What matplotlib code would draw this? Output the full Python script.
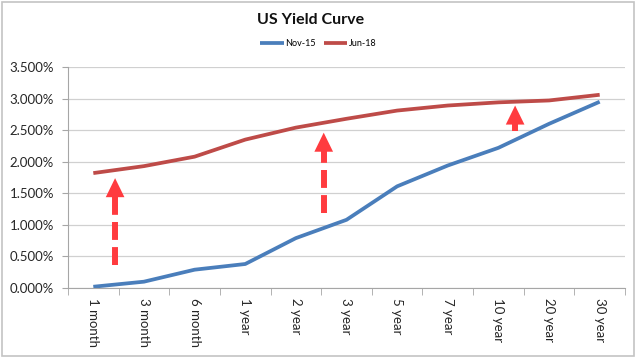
import matplotlib.pyplot as plt
from matplotlib.patches import Rectangle
from matplotlib.ticker import FuncFormatter
import numpy as np

# data
maturities = ['1 month', '3 month', '6 month', '1 year', '2 year', '3 year',
              '5 year', '7 year', '10 year', '20 year', '30 year']
nov15 = [0.02, 0.10, 0.29, 0.38, 0.79, 1.08, 1.61, 1.94, 2.22, 2.60, 2.95]
jun18 = [1.82, 1.93, 2.08, 2.35, 2.54, 2.68, 2.81, 2.89, 2.94, 2.97, 3.06]

# shift arrows: (category position, start %, end %)
arrow_x = [0.43, 4.55, 8.33]
arrow_from = [0.37, 1.18, 2.48]
arrow_to = [1.74, 2.46, 2.89]

plt.rcParams['font.family'] = ['Lato', 'DejaVu Sans']

fig = plt.figure(figsize=(6.37, 3.6), dpi=100)
ax = fig.add_axes([68 / 637, 72 / 360, 557 / 637, 221 / 360])

x = np.arange(len(maturities))
ax.plot(x, nov15, color='#4a7ebb', lw=2.7, label='Nov-15', solid_capstyle='butt')
ax.plot(x, jun18, color='#be4b48', lw=2.7, label='Jun-18', solid_capstyle='butt')

arrow_col = '#ff3b3f'
head = 0.29  # head length in % units
for xa, y0, y1 in zip(arrow_x, arrow_from, arrow_to):
    # dashed shaft
    ax.plot([xa, xa], [y0, y1 - head + 0.02], color=arrow_col, lw=4.3,
            ls=(0, (3.0, 1.2)), solid_capstyle='butt', dash_capstyle='butt')
    # solid head
    ax.annotate('', xy=(xa, y1), xytext=(xa, y1 - head),
                arrowprops=dict(arrowstyle='-|>,head_length=0.98,head_width=0.48',
                                lw=0, color=arrow_col, mutation_scale=14,
                                shrinkA=0, shrinkB=0))

ax.set_xlim(-0.5, len(maturities) - 0.5)
ax.set_ylim(0, 3.5)
ax.set_yticks(np.arange(0, 3.51, 0.5))
ax.yaxis.set_major_formatter(FuncFormatter(lambda v, p: '%.3f%%' % v))
ax.set_xticks(x)
ax.set_xticklabels(maturities, rotation=-90, ha='center', va='top',
                   fontsize=9.5, color='#262626')
ax.set_xticks(np.arange(-0.5, len(maturities)), minor=True)
ax.tick_params(axis='x', which='major', length=0, pad=7)
ax.tick_params(axis='x', which='minor', length=5, color='#a6a6a6')
ax.tick_params(axis='y', length=4, color='#a6a6a6', labelsize=9.5, labelcolor='#262626', pad=6)

ax.grid(axis='y', color='#d0d0d0', lw=0.9)
ax.set_axisbelow(True)
for s in ['top', 'right']:
    ax.spines[s].set_visible(False)
ax.spines['left'].set_color('#a6a6a6')
ax.spines['bottom'].set_color('#a6a6a6')

fig.text(0.487, 0.945, 'US Yield Curve', ha='center', va='center',
         fontsize=11.5, fontweight='bold', color='#111111')
fig.legend(loc='center', bbox_to_anchor=(0.5, 0.878), ncol=2, frameon=False,
           fontsize=6.5, handlelength=2.6, handletextpad=0.2, columnspacing=0.9)

fig.patches.append(Rectangle((0.003, 0.012), 0.992, 0.982, transform=fig.transFigure,
                             fill=False, edgecolor='#c4c4c4', lw=1.2))

fig.savefig('out.png', dpi=100)
